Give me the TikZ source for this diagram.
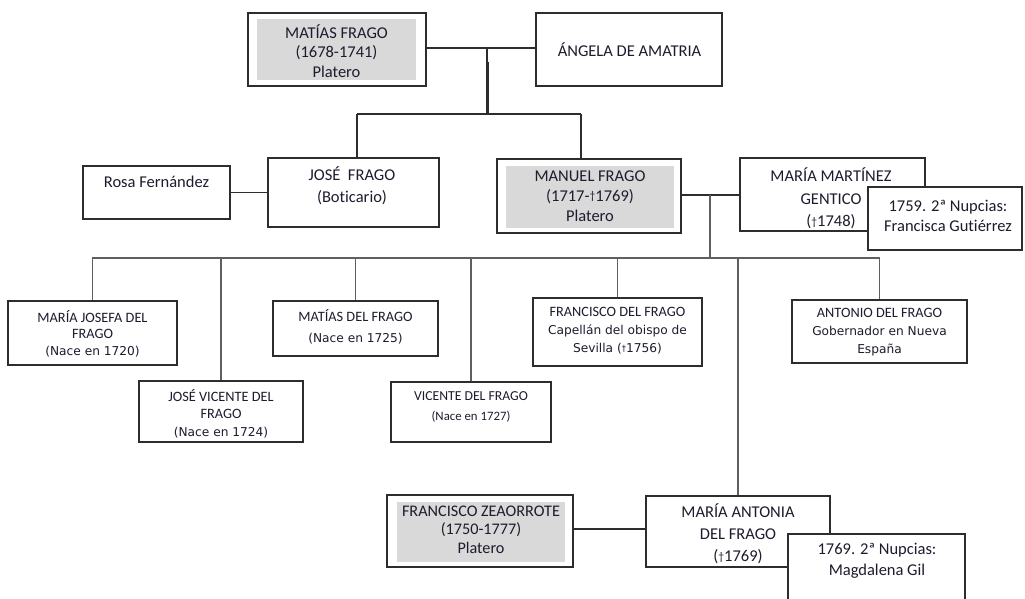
\documentclass[tikz,border=0pt]{standalone}
\usepackage{fontspec}
\setmainfont{Carlito}[Ligatures=NoCommon]
\newfontfamily\dvfam{DejaVu Sans}
\definecolor{tc}{RGB}{28,28,45}
\definecolor{gfill}{RGB}{217,217,217}
\definecolor{ln}{RGB}{45,45,45}
\definecolor{busc}{RGB}{95,95,95}
\newcommand\vd[1]{{\dvfam\fontsize{12.2}{14}\selectfont #1}}
\newcommand\fs[2]{\fontsize{#1}{#2}\selectfont}
\newcommand\dg{\raisebox{1.5pt}{\scalebox{0.7}{†}}}
\begin{document}
\begin{tikzpicture}[x=1pt,y=-1pt,
  box/.style={draw=ln, line width=1.4pt, fill=white, inner sep=0pt, rectangle},
  shadebox/.style={fill=gfill, draw=none, inner sep=0pt, rectangle},
  lbl/.style={align=center, inner sep=0pt, text=tc},
  conn/.style={draw=ln, line width=1.3pt},
  thickconn/.style={draw=ln, line width=3pt},
  busline/.style={draw=busc, line width=1.8pt}]
\useasboundingbox (0,0) rectangle (1025,599);
\clip (0,0) rectangle (1025,599);
\fill[white] (0,0) rectangle (1025,599);

% coordinates for connector joints
\coordinate (pm) at (487,48);
\coordinate (pt) at (487,62);
\coordinate (pj) at (487,114);
\coordinate (jx) at (357,114);
\coordinate (mx) at (581,114);
\coordinate (mm) at (710,195);
\coordinate (busL) at (92,258);
\coordinate (zm) at (600,529);

% boxes
\node[box, minimum width=178pt, minimum height=73pt] (matias) at (337,49.5) {};
\node[box, minimum width=186pt, minimum height=73pt] (angela) at (629,49.5) {};
\node[box, minimum width=171pt, minimum height=69pt] (jose) at (353.5,192.5) {};
\node[box, minimum width=147pt, minimum height=53pt] (rosa) at (156.5,192.5) {};
\node[box, minimum width=184pt, minimum height=74pt] (manuel) at (589,196) {};
\node[box, minimum width=185pt, minimum height=73pt] (mmartinez) at (832.5,194.5) {};
\node[box, minimum width=169pt, minimum height=64pt] (mjosefa) at (92.5,333) {};
\node[box, minimum width=164pt, minimum height=61pt] (jvicente) at (221,411.5) {};
\node[box, minimum width=165pt, minimum height=55pt] (mdelfrago) at (355.5,328.5) {};
\node[box, minimum width=160pt, minimum height=60pt] (vicente) at (471,412) {};
\node[box, minimum width=169pt, minimum height=68pt] (francisco) at (617.5,332) {};
\node[box, minimum width=175pt, minimum height=63pt] (antonio) at (879.5,331.5) {};
\node[box, minimum width=186pt, minimum height=72pt] (zeaorrote) at (480,531) {};
\node[box, minimum width=184pt, minimum height=71pt] (mantonia) at (738,531.5) {};

% connectors
\draw[conn] (matias.east |- pm) -- (angela.west |- pm);
\draw[conn] (pm) -- (pt);
\draw[thickconn] (pt) -- (pj);
\draw[conn] (jx) -- (mx);
\draw[conn] (jx) -- (jx |- jose.north);
\draw[conn] (mx) -- (mx |- manuel.north);
\draw[conn] (rosa.east) -- (jose.west |- rosa.east);
\draw[conn] (manuel.east |- mm) -- (mmartinez.west |- mm);
\draw[busline] (mm) -- (mm |- busL);
\draw[busline] (mjosefa.north) -- (mjosefa.north |- busL) -- (antonio.north |- busL) -- (antonio.north);
\draw[busline] (jvicente.north) -- (jvicente.north |- busL);
\draw[busline] (mdelfrago.north) -- (mdelfrago.north |- busL);
\draw[busline] (vicente.north) -- (vicente.north |- busL);
\draw[busline] (francisco.north) -- (francisco.north |- busL);
\draw[busline] (mantonia.north) -- (mantonia.north |- busL);
\draw[conn] (zeaorrote.east |- zm) -- (mantonia.west |- zm);

% grey fills
\node[shadebox, minimum width=159pt, minimum height=61pt] (matiasg) at (336.5,49.5) {};
\node[shadebox, minimum width=168pt, minimum height=62pt] (manuelg) at (590,197) {};
\node[shadebox, minimum width=168pt, minimum height=60pt] (zeaorroteg) at (481,532) {};

% texts
\node[lbl, font=\fs{16.5}{19.5}] (tmatias) at (336.5,51) {MATÍAS FRAGO\\(1678-1741)\\Platero};
\node[lbl, font=\fs{16.5}{19.5}] (tangela) at (629.5,50) {ÁNGELA DE AMATRIA};
\node[lbl, font=\fs{16.5}{19.5}] (trosa) at (156.5,182) {Rosa Fernández};
\node[lbl, font=\fs{16.5}{22}] (tjose) at (352,186) {JOSÉ\ \ FRAGO\\(Boticario)};
\node[lbl, font=\fs{16.5}{20}] (tmanuel) at (590,196) {MANUEL FRAGO\\(1717-\dg1769)\\Platero};
\node[lbl, font=\fs{16.5}{22.5}] (tmmartinez) at (831,198.5) {MARÍA MARTÍNEZ\\GENTICO\\(\dg1748)};
\node[box, minimum width=154pt, minimum height=63pt] (n1759) at (945,218.5) {};
\node[lbl, font=\fs{16.5}{20}] (t1759) at (948,215.5) {1759. 2ª Nupcias:\\Francisca Gutiérrez};
\node[lbl, font=\fs{14.3}{16.5}] (tmjosefa) at (92.5,333.5) {MARÍA JOSEFA DEL\\FRAGO\\\vd{(Nace en 1720)}};
\node[lbl, font=\fs{14.3}{17.5}] (tjvicente) at (221,413.5) {JOSÉ VICENTE DEL\\FRAGO\\\vd{(Nace en 1724)}};
\node[lbl, font=\fs{14.3}{21}] (tmdelfrago) at (355.5,326.5) {MATÍAS DEL FRAGO\\\vd{(Nace en 1725)}};
\node[lbl, font=\fs{13.7}{20}] (tvicente) at (471,407) {VICENTE DEL FRAGO\\{\fs{12.8}{20}(Nace en 1727)}};
\node[lbl, font=\fs{14.3}{18}] (tfrancisco) at (617.5,331) {FRANCISCO DEL FRAGO\\\vd{Capellán del obispo de}\\\vd{Sevilla (\dg1756)}};
\node[lbl, font=\fs{14.3}{18}] (tantonio) at (879.5,332) {ANTONIO DEL FRAGO\\\vd{Gobernador en Nueva}\\\vd{España}};
\node[lbl, font=\fs{16.2}{18.5}] (tzeaorrote) at (481,529.5) {FRANCISCO ZEAORROTE\\(1750-1777)\\Platero};
\node[lbl, font=\fs{16.5}{22}] (tmantonia) at (738,534) {MARÍA ANTONIA\\DEL FRAGO\\(\dg1769)};
\node[box, minimum width=177pt, minimum height=81pt] (n1769) at (876.5,574.5) {};
\node[lbl, font=\fs{16.5}{21}] (t1769) at (877,560.5) {1769. 2ª Nupcias:\\Magdalena Gil};
\end{tikzpicture}
\end{document}
